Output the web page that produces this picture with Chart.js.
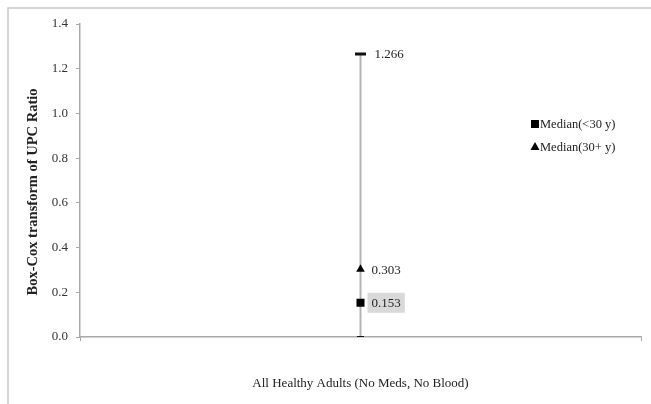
<!DOCTYPE html>
<html><head><meta charset="utf-8">
<script src="https://cdn.jsdelivr.net/npm/chart.js@4"></script>
<style>html,body{margin:0;padding:0;background:#fff}#wrap{width:651px;height:404px;position:relative}</style>
</head><body><div id="wrap"><canvas id="c" width="651" height="404"></canvas></div>
<script>
const categories = ['All Healthy Adults (No Meds, No Blood)'];
const rangeLow = [0];
const rangeHigh = [1.266];
const medianUnder30 = [0.153];
const median30Plus = [0.303];
const yTicks = [0, 0.2, 0.4, 0.6, 0.8, 1.0, 1.2, 1.4];
const yTitle = 'Box-Cox transform of UPC Ratio';
const seriesNames = ['Median(<30 y)', 'Median(30+ y)'];

const SERIF = '"Liberation Serif", "Times New Roman", serif';

const decor = {
  id: 'decor',
  beforeDraw(chart) {
    const ctx = chart.ctx;
    ctx.save();
    ctx.strokeStyle = '#c8c8c8';
    ctx.lineWidth = 1.5;
    ctx.beginPath();
    ctx.moveTo(8, 404); ctx.lineTo(8, 8); ctx.lineTo(651, 8);
    ctx.stroke();
    ctx.restore();
  },
  afterDraw(chart) {
    const ctx = chart.ctx;
    const xs = chart.scales.x, ys = chart.scales.y;
    ctx.save();
    ctx.font = 'bold 14.5px ' + SERIF;
    ctx.fillStyle = '#222';
    ctx.textAlign = 'center';
    ctx.textBaseline = 'middle';
    ctx.translate(33, 192);
    ctx.rotate(-Math.PI / 2);
    ctx.fillText(yTitle, 0, 0);
    ctx.restore();

    ctx.save();
    ctx.font = '13px ' + SERIF;
    ctx.textBaseline = 'middle';
    ctx.textAlign = 'left';
    const cx = xs.getPixelForValue(0);
    const hiY = ys.getPixelForValue(rangeHigh[0]);
    ctx.fillStyle = '#222';
    ctx.fillText(rangeHigh[0].toFixed(3), cx + 14, hiY + 1);
    const tY = ys.getPixelForValue(median30Plus[0]);
    ctx.fillText(median30Plus[0].toFixed(3), cx + 11, tY + 1);
    const sY = ys.getPixelForValue(medianUnder30[0]);
    const t = medianUnder30[0].toFixed(3);
    const w = ctx.measureText(t).width;
    ctx.fillStyle = '#d9d9d9';
    ctx.fillRect(cx + 7, sY - 10, w + 8, 20);
    ctx.fillStyle = '#222';
    ctx.fillText(t, cx + 11, sY + 1);
    ctx.restore();

    ctx.save();
    ctx.font = '12.5px ' + SERIF;
    ctx.textBaseline = 'middle';
    ctx.textAlign = 'left';
    ctx.fillStyle = '#000';
    ctx.fillRect(531, 120, 8, 8);
    ctx.beginPath();
    ctx.moveTo(535, 142); ctx.lineTo(539.5, 150); ctx.lineTo(530.5, 150); ctx.closePath();
    ctx.fill();
    ctx.fillStyle = '#222';
    ctx.fillText(seriesNames[0], 540, 124.5);
    ctx.fillText(seriesNames[1], 540, 147.5);
    ctx.restore();
  }
};

new Chart(document.getElementById('c'), {
  type: 'line',
  data: {
    labels: categories,
    datasets: [
      {
        label: 'range',
        data: [{x: categories[0], y: rangeLow[0]}, {x: categories[0], y: rangeHigh[0]}],
        borderColor: '#b4b4b4',
        borderWidth: 2,
        pointStyle: 'line',
        pointRadius: [3.5, 5.5],
        pointBorderWidth: [2, 3],
        pointBorderColor: '#111',
        pointBackgroundColor: '#111',
        order: 3
      },
      {
        label: seriesNames[0],
        data: medianUnder30,
        showLine: false,
        pointStyle: 'rect',
        pointRadius: 5.7,
        pointBorderWidth: 0,
        pointBackgroundColor: '#000',
        borderColor: '#000',
        order: 1
      },
      {
        label: seriesNames[1],
        data: median30Plus,
        showLine: false,
        pointStyle: 'triangle',
        pointRadius: 5,
        pointBorderWidth: 0,
        pointBackgroundColor: '#000',
        borderColor: '#000',
        order: 2
      }
    ]
  },
  options: {
    responsive: false,
    animation: false,
    devicePixelRatio: 1,
    layout: {padding: {top: 24, right: 10, left: 0, bottom: 0}},
    plugins: {legend: {display: false}, tooltip: {enabled: false}},
    scales: {
      x: {
        type: 'category',
        offset: true,
        grid: {display: true, offset: true, drawOnChartArea: false, tickLength: 4, color: '#a8a8a8'},
        border: {color: '#a8a8a8', width: 1.5},
        ticks: {display: false},
        title: {display: true, text: categories[0], color: '#222', font: {family: SERIF, size: 13}, padding: {top: 0, bottom: 13}},
        afterFit: s => { s.height = 67; }
      },
      y: {
        min: 0, max: 1.4,
        afterBuildTicks: s => { s.ticks = yTicks.map(v => ({value: v})); },
        ticks: {callback: v => Number(v).toFixed(1), color: '#333', font: {family: SERIF, size: 13}, padding: 8},
        grid: {drawOnChartArea: false, tickLength: 4, color: '#a8a8a8'},
        border: {color: '#a8a8a8', width: 1.5},
        afterFit: s => { s.width = 80; }
      }
    }
  },
  plugins: [decor]
});
</script></body></html>
